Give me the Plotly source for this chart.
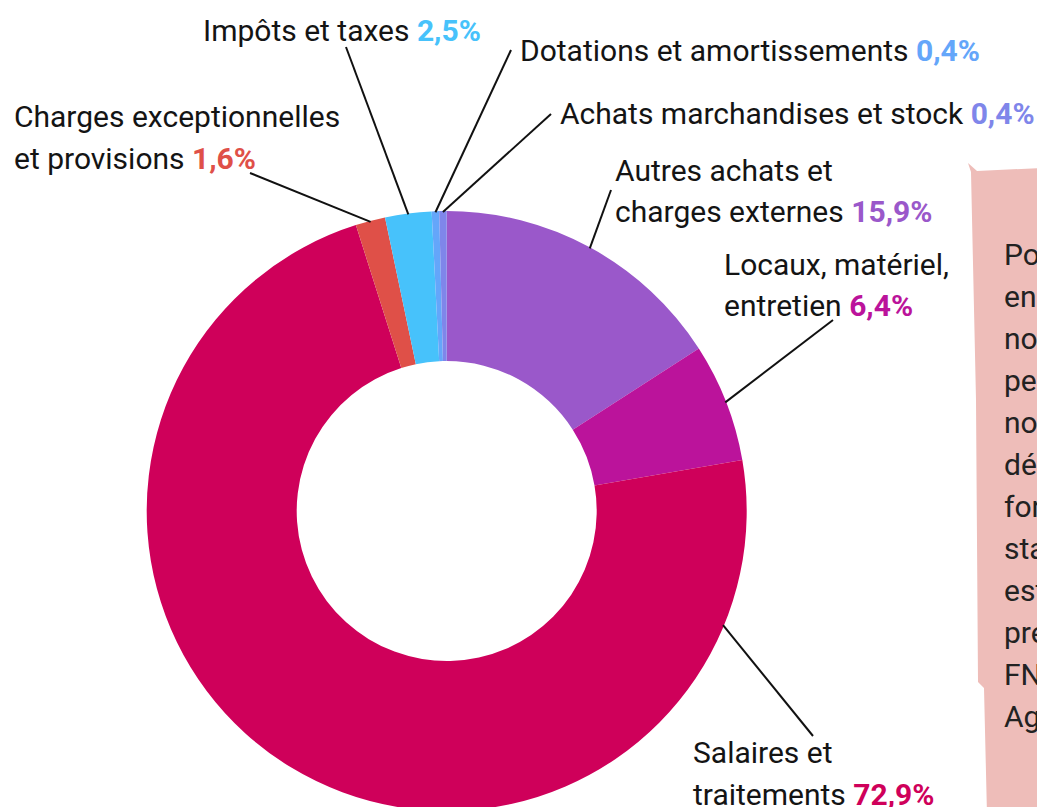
import math
import plotly.graph_objects as go

# ---- data ----
categories = [
    "Autres achats et charges externes",
    "Locaux, matériel, entretien",
    "Salaires et traitements",
    "Charges exceptionnelles et provisions",
    "Impôts et taxes",
    "Dotations et amortissements",
    "Achats marchandises et stock",
]
values = [15.9, 6.4, 72.9, 1.6, 2.5, 0.4, 0.4]
label_lines = [
    ["Autres achats et", "charges externes"],
    ["Locaux, matériel,", "entretien"],
    ["Salaires et", "traitements"],
    ["Charges exceptionnelles", "et provisions"],
    ["Impôts et taxes"],
    ["Dotations et amortissements"],
    ["Achats marchandises et stock"],
]
side_text = ["Pour", "encore", "nos", "permettre", "notre", "démarche", "former", "stables", "est", "prendre", "FNE", "Agir"]

# ---- style ----
colors = ["#9a58ca", "#bb139b", "#cf005a", "#df5048", "#47c2fb", "#64a6fa", "#7f86ea"]
W, H = 1037, 811
FONT = "Roboto"
FS = 30
TXT = "#141414"

# label layout (pixels): left x, first line center y, line gap, leader anchor, position of leader end within slice
label_pos = [
    (613, 170, 42, (611, 190), 0.5),
    (722, 264, 41, (833, 320), 0.5),
    (691, 752, 42, (813, 736), 0.123),
    (12, 117, 41, (250, 173), 0.5),
    (201, 30, 0, (346, 47), 0.5),
    (518, 50, 0, (511, 50), 0.5),
    (558, 113, 0, (551, 114), 0.5),
]

top_px = 211
size_px = H - top_px
cx_px = 446.7
cy_px = top_px + size_px / 2
R = size_px / 2

def px(x):
    return x / W

def py(y):
    return 1 - y / H

fig = go.Figure(go.Pie(
    labels=categories,
    values=values,
    marker=dict(colors=colors, line=dict(width=0)),
    hole=0.5,
    sort=False,
    direction="clockwise",
    rotation=0,
    textinfo="none",
    hoverinfo="label+percent",
    showlegend=False,
    domain=dict(x=[px(cx_px - R), px(cx_px + R)], y=[0, py(top_px)]),
))

annotations = []
shapes = []

# pink side box
shapes.append(dict(
    type="path", xref="paper", yref="paper", layer="below",
    path="M {} {} L {} {} L {} {} L {} {} L {} {} L {} {} L {} {} L {} {} L {} {} Z".format(
        px(968), py(163), px(977), py(171), px(1040), py(168), px(1040), py(815),
        px(987), py(815), px(984), py(688), px(978), py(682), px(976), py(400), px(971), py(172)),
    fillcolor="#eebdb9", line=dict(width=0),
))
for i, t in enumerate(side_text):
    annotations.append(dict(
        x=px(1002), y=py(254 + i * 42.0), xref="paper", yref="paper",
        xanchor="left", yanchor="middle", showarrow=False, text=t,
        font=dict(family=FONT, size=FS, color="#222222"),
    ))

total = sum(values)
cum = 0.0
for i, v in enumerate(values):
    lx, ly, gap, (ax, ay), frac = label_pos[i]
    pos = (cum + v * frac) / total
    cum += v
    ang = 2 * math.pi * pos
    ex = cx_px + (R - 1) * math.sin(ang)
    ey = cy_px - (R - 1) * math.cos(ang)
    pct = f"{v:.1f}".replace(".", ",") + "%"
    lines = label_lines[i]
    for j, line in enumerate(lines):
        text = line
        if j == len(lines) - 1:
            text = f"{line} <span style='color:{colors[i]}'><b>{pct}</b></span>"
        annotations.append(dict(
            x=px(lx), y=py(ly + j * gap), xref="paper", yref="paper",
            xanchor="left", yanchor="middle", showarrow=False, text=text,
            font=dict(family=FONT, size=FS, color=TXT),
        ))
    shapes.append(dict(
        type="line", xref="paper", yref="paper",
        x0=px(ax), y0=py(ay), x1=px(ex), y1=py(ey),
        line=dict(color="#111111", width=2),
    ))

fig.update_layout(
    width=W, height=H,
    margin=dict(l=0, r=0, t=0, b=0),
    paper_bgcolor="white", plot_bgcolor="white",
    annotations=annotations, shapes=shapes,
)

fig.write_html(
    "out.html",
    config={"displayModeBar": False},
    post_script="document.body.style.margin='0';document.body.style.overflow='hidden';",
)
